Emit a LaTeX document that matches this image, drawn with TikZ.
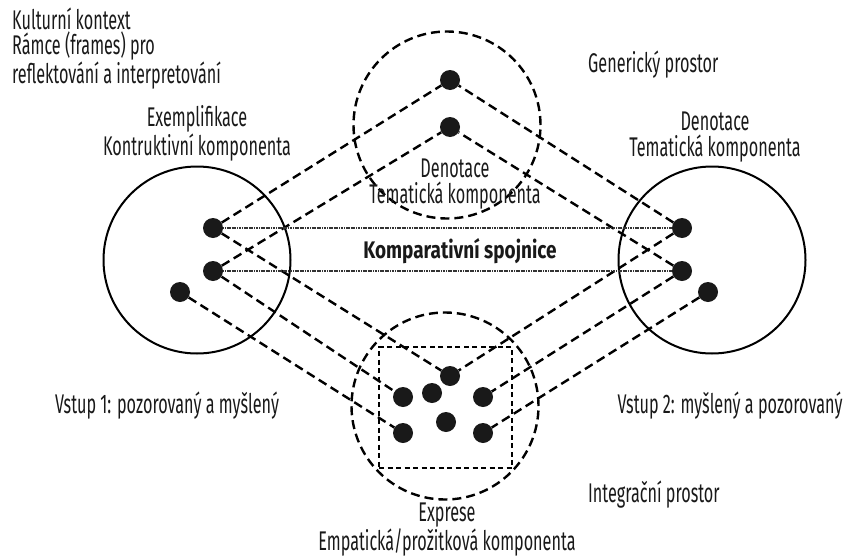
\documentclass[tikz,border=0pt]{standalone}
\usepackage{fontspec}
\setmainfont[FakeStretch=0.6]{Fira Sans}
\newfontfamily\tucne[FakeStretch=0.79]{Fira Sans}
\usetikzlibrary{positioning, calc}
\tikzset{
    prostor/.style = {circle, draw=black, line width=2pt, inner sep=0pt, minimum size=187pt},
    genprostor/.style = {prostor, line width=2.4pt, dash pattern=on 9pt off 5pt},
    ramec/.style = {draw=black, line width=1.8pt, dash pattern=on 5pt off 3.5pt, inner sep=0pt},
    bod/.style = {circle, fill=black!90, inner sep=0pt, minimum size=20pt},
    vazba/.style = {draw=black, line width=2.4pt, dash pattern=on 9pt off 5pt},
    spojnice/.style = {draw=black!80, line width=2.6pt, dash pattern=on 1.2pt off 0.5pt},
    popis/.style = {font=\fontsize{27}{25.5}\selectfont, text=black!90, inner sep=0pt, align=center, anchor=base},
}

\begin{document}
\begin{tikzpicture}[x=1pt, y=-1pt]
    \useasboundingbox (0,0) rectangle (849,557);
    % prostory
    \node (vstupA) [prostor] at (197,260) {};
    \node (vstupB) [prostor] at (712,260) {};
    \node (gen) [genprostor] at (447,125) {};
    \node (integ) [genprostor] at (445,406) {};
    \node (ctverec) [ramec, minimum width=133pt, minimum height=121pt] at (445.5,407.5) {};
    % body
    \node (l1) [bod] at (213,228) {};
    \node (l2) [bod] at (213,271) {};
    \node (l3) [bod] at (180,292) {};
    \node (r1) [bod] at (682,228) {};
    \node (r2) [bod] at (682,271) {};
    \node (r3) [bod] at (708,292) {};
    \node (t1) [bod] at (450,80) {};
    \node (t2) [bod] at (450,127) {};
    \node (b1) [bod] at (450,376) {};
    \node (b2) [bod] at (403,397) {};
    \node (b3) [bod] at (432,393) {};
    \node (b4) [bod] at (483,397) {};
    \node (b5) [bod] at (446,422) {};
    \node (b6) [bod] at (403,433) {};
    \node (b7) [bod] at (483,433) {};
    \foreach \a/\b in {l1/t1, l2/t2, r1/t1, r2/t2, l1/b1, l2/b2, l3/b6, r1/b1, r2/b4, r3/b7}
        \draw [vazba] (\a) -- (\b);
    \draw [spojnice] (l1) -- (r1);
    \draw [spojnice] (l2) -- (r2);
    % popisky (base = posledni radek)
    \node (kontext) [popis, anchor=base west, align=left] at (12,83)
        {Kulturní kontext\\Rámce (frames) pro\\reflektování a interpretování};
    \node (genpopis) [popis, anchor=base west] at (588,72) {Generický prostor};
    \node (exempl) [popis] at (197,155) {Exemplifikace\\Kontruktivní komponenta};
    \node (denotB) [popis] at (715,156) {Denotace\\Tematická komponenta};
    \node (denotG) [popis] at (455,203) {Denotace\\Tematická komponenta};
    \node (kompar) [popis, font=\fontsize{24}{25.5}\tucne\bfseries] at (460,258) {Komparativní spojnice};
    \node (vstup1) [popis] at (167,413) {Vstup 1: pozorovaný a myšlený};
    \node (vstup2) [popis] at (730,413) {Vstup 2: myšlený a pozorovaný};
    \node (integpopis) [popis, anchor=base west] at (588,502) {Integrační prostor};
    \node (exprese) [popis] at (447,550) {Exprese\\Empatická/prožitková komponenta};
\end{tikzpicture}
\end{document}
